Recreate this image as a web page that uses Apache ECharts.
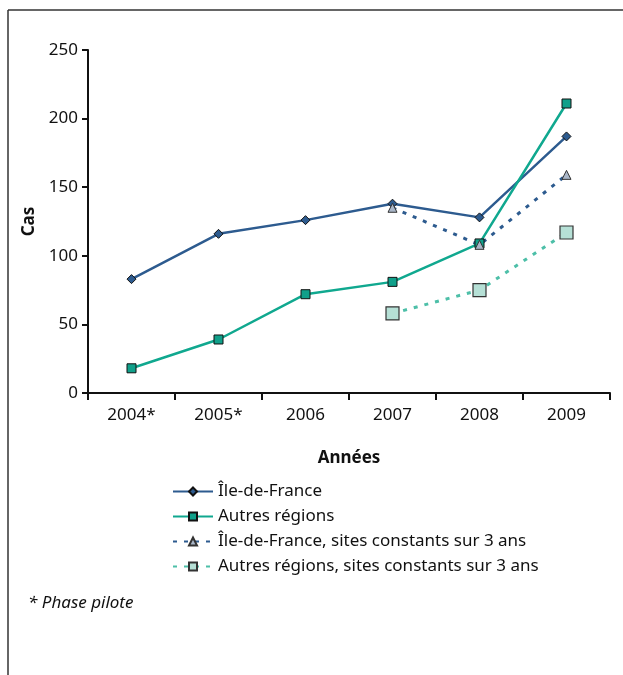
<!DOCTYPE html>
<html>
<head>
<meta charset="utf-8">
<script src="https://cdn.jsdelivr.net/npm/echarts@6/dist/echarts.min.js"></script>
<style>
  html, body { margin: 0; padding: 0; background: #fff; }
</style>
</head>
<body>
<div id="chart" style="width: 623px; height: 675px;"></div>
<script>
// données
const annees = ["2004*", "2005*", "2006", "2007", "2008", "2009"];
const ileDeFrance = [83, 116, 126, 138, 128, 187];
const autresRegions = [18, 39, 72, 81, 109, 211];
const idfConstants = [null, null, null, 135, 108, 159];
const autresConstants = [null, null, null, 58, 75, 117];
const yTicks = [0, 50, 100, 150, 200, 250];

const police = "Noto Sans";
const chart = echarts.init(document.getElementById("chart"));

const option = {
  backgroundColor: "#fff",
  textStyle: { fontFamily: police },
  graphic: [
    // cadre haut et gauche
    { type: "line", shape: { x1: 8, y1: 10, x2: 623, y2: 10 }, style: { stroke: "#333", lineWidth: 1.5 } },
    { type: "line", shape: { x1: 8, y1: 10, x2: 8, y2: 675 }, style: { stroke: "#333", lineWidth: 1.5 } },
    {
      type: "text", left: 28, top: 595,
      style: { text: "* Phase pilote", font: "italic 17px '" + police + "'", fill: "#111" }
    }
  ],
  grid: { left: 88, right: 13, top: 50, bottom: 282 },
  legend: {
    orient: "vertical",
    left: 172,
    top: 483,
    padding: 0,
    itemWidth: 40,
    itemHeight: 10,
    itemGap: 8,
    textStyle: { fontSize: 17, color: "#111", fontFamily: police },
    data: [
      "Île-de-France",
      "Autres régions",
      "Île-de-France, sites constants sur 3 ans",
      "Autres régions, sites constants sur 3 ans"
    ]
  },
  xAxis: {
    type: "category",
    data: annees,
    boundaryGap: true,
    name: "Années",
    nameLocation: "middle",
    nameGap: 57,
    nameTextStyle: { fontWeight: "bold", fontSize: 17, color: "#111" },
    axisLine: { lineStyle: { color: "#111", width: 2 } },
    axisTick: { show: true, interval: 0, length: 7, lineStyle: { color: "#111", width: 2 } },
    axisLabel: { fontSize: 17, color: "#111", margin: 14, interval: 0 },
    splitLine: { show: false }
  },
  yAxis: {
    type: "value",
    min: yTicks[0],
    max: yTicks[yTicks.length - 1],
    interval: 50,
    name: "Cas",
    nameLocation: "middle",
    nameGap: 50,
    nameRotate: 90,
    nameTextStyle: { fontWeight: "bold", fontSize: 17, color: "#111" },
    axisLine: { show: true, lineStyle: { color: "#111", width: 2 } },
    axisTick: { show: true, length: 6, lineStyle: { color: "#111", width: 2 } },
    axisLabel: { fontSize: 17, color: "#111", margin: 10 },
    splitLine: { show: false }
  },
  series: [
    {
      name: "Île-de-France",
      type: "line",
      data: ileDeFrance,
      symbol: "diamond",
      symbolSize: 9,
      lineStyle: { color: "#2d5b8f", width: 2.5 },
      itemStyle: { color: "#2d5b8f", borderColor: "#111", borderWidth: 1 }
    },
    {
      name: "Autres régions",
      type: "line",
      data: autresRegions,
      symbol: "rect",
      symbolSize: 9,
      lineStyle: { color: "#10a88f", width: 2.5 },
      itemStyle: { color: "#10a08a", borderColor: "#111", borderWidth: 1 }
    },
    {
      name: "Île-de-France, sites constants sur 3 ans",
      type: "line",
      data: idfConstants,
      symbol: "triangle",
      symbolSize: 9,
      lineStyle: { color: "#2d5b8f", width: 3, type: [4, 7] },
      itemStyle: { color: "#a9b6c8", borderColor: "#333", borderWidth: 1 }
    },
    {
      name: "Autres régions, sites constants sur 3 ans",
      type: "line",
      data: autresConstants,
      symbol: "rect",
      symbolSize: 13,
      lineStyle: { color: "#4dbfa8", width: 3, type: [4, 7] },
      itemStyle: { color: "#b6e0d6", borderColor: "#333", borderWidth: 1.2 }
    }
  ]
};

chart.setOption(option);
window.onresize = function () {
  chart.resize();
};
</script>
</body>
</html>
